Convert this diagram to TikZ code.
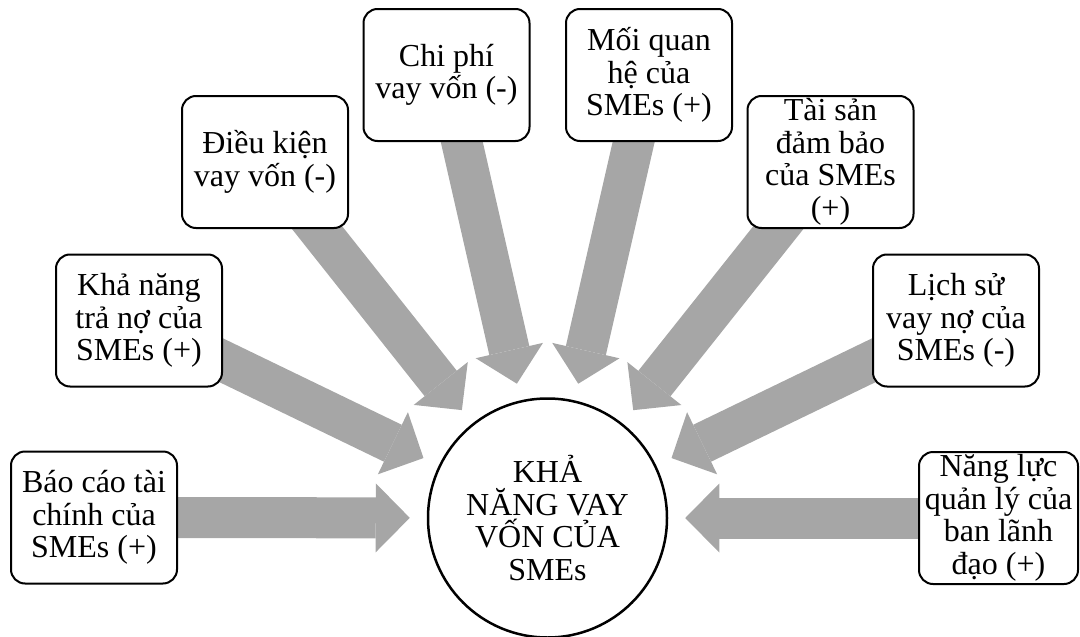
\documentclass[tikz,border=0pt]{standalone}
\usepackage{fontspec}
\setmainfont{Liberation Serif}
\usetikzlibrary{arrows.meta}
\pgfdeclarelayer{background}
\pgfsetlayers{background,main}
\definecolor{arrowgray}{RGB}{166,166,166}
\begin{document}
\begin{tikzpicture}[x=1pt,y=-1pt,
  box/.style={draw=black, line width=2pt, rounded corners=14pt, fill=white,
    minimum width=166pt, minimum height=132pt, align=center, inner sep=1pt,
    font=\fontsize{32}{32.5}\selectfont},
  hub/.style={circle, draw=black, line width=2.5pt, fill=white,
    minimum size=239pt, inner sep=0pt, align=center,
    font=\fontsize{32}{32.5}\selectfont},
  bigarrow/.style={draw=arrowgray, line width=41pt, shorten >=17pt,
    -{Triangle[length=34pt,width=69pt,line width=0pt]}}]
\useasboundingbox (0,0) rectangle (1080,637);

\node[hub] (c) at (547.5,518) {KHẢ\\NĂNG VAY\\VỐN CỦA\\SMEs};

\node[box] (b1) at (94,517.5) {Báo cáo tài\\chính của\\SMEs (+)};
\node[box] (b2) at (139,320.5) {Khả năng\\trả nợ của\\SMEs (+)};
\node[box] (b3) at (265,162) {Điều kiện\\vay vốn (-)};
\node[box] (b4) at (446.5,75) {Chi phí\\vay vốn (-)};
\node[box] (b5) at (649,75) {Mối quan\\hệ của\\SMEs (+)};
\node[box] (b6) at (830.5,162) {Tài sản\\đảm bảo\\của SMEs\\(+)};
\node[box] (b7) at (956,320.5) {Lịch sử\\vay nợ của\\SMEs (-)};
\node[box, minimum width=159pt] (b8) at (998.5,518) {Năng lực\\quản lý của\\ban lãnh\\đạo (+)};

\begin{pgfonlayer}{background}
\foreach \i in {1,...,8} \draw[bigarrow] (b\i.center) -- (c);
\end{pgfonlayer}
\end{tikzpicture}
\end{document}
